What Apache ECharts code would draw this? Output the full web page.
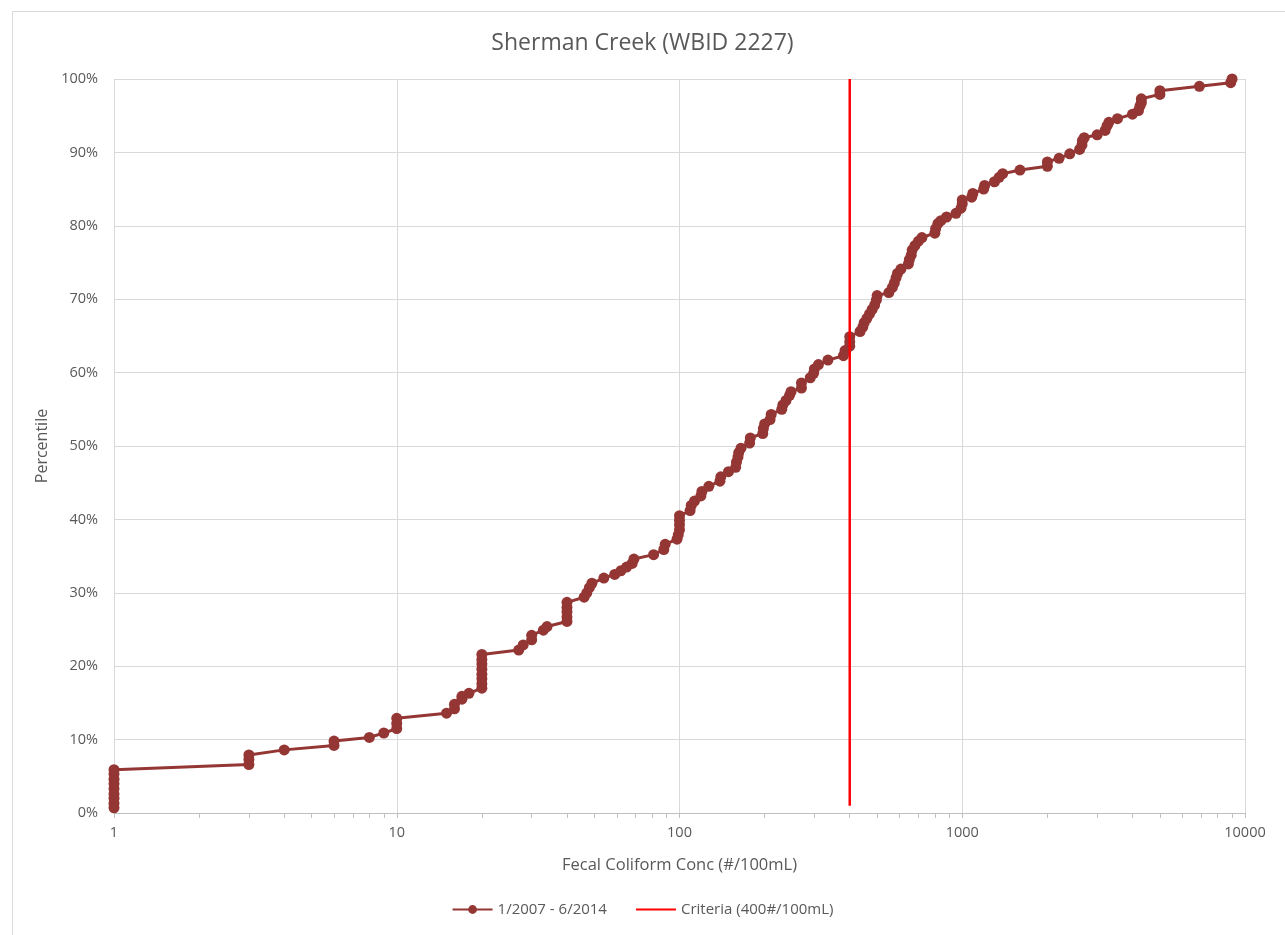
<!DOCTYPE html>
<html>
<head>
<meta charset="utf-8">
<title>Sherman Creek (WBID 2227)</title>
<script src="https://cdn.jsdelivr.net/npm/echarts@6/dist/echarts.min.js"></script>
<style>
  html, body { margin: 0; padding: 0; background: #ffffff; }
  #chart { width: 1285px; height: 935px; }
</style>
</head>
<body>
<div id="chart"></div>
<script>
// Fecal coliform samples, 1/2007 - 6/2014: concentration (#/100mL) and percentile (%)
const concentrations = [
  1, 1, 1, 1, 1, 1, 1, 1, 1,
  3, 3, 3, 4, 6, 6, 8, 9, 10, 10, 10,
  15, 16, 16, 17, 17, 18,
  20, 20, 20, 20, 20, 20, 20, 20,
  27, 28, 30, 30, 33, 34,
  40, 40, 40, 40, 40,
  46, 47, 48, 49, 54, 59, 62, 65, 68, 69, 81, 88, 89,
  98, 99, 100, 100, 100, 100,
  109, 110, 113, 119, 120, 127, 139, 140, 149, 158, 159, 161, 162, 165,
  177, 178, 197, 198, 200, 209, 211, 230, 232, 238, 245, 248, 270, 270,
  290, 298, 300, 310, 335, 380, 385, 400, 400, 400,
  435, 445, 450, 460, 470, 480, 490, 497, 500, 550, 566, 575, 583, 590,
  607, 645, 650, 660, 665, 680, 700, 720, 800, 805, 820, 840, 880, 950,
  990, 1000, 1000, 1080, 1090, 1190, 1200, 1300, 1350, 1390, 1600,
  2000, 2000, 2200, 2400, 2600, 2650, 2660, 2700, 3000, 3200, 3250, 3300,
  3540, 4000, 4200, 4250, 4300, 4300, 5000, 5000, 6900, 8900, 9000
];
const percentiles = [
  0.7, 1.3, 2.0, 2.6, 3.3, 4.0, 4.6, 5.3, 5.9,
  6.6, 7.3, 7.9, 8.6, 9.2, 9.8, 10.3, 10.9, 11.5, 12.2, 12.9,
  13.6, 14.2, 14.8, 15.5, 15.9, 16.3,
  17.0, 17.6, 18.3, 18.9, 19.6, 20.3, 20.9, 21.6,
  22.2, 22.9, 23.6, 24.2, 24.9, 25.4,
  26.1, 26.7, 27.4, 28.0, 28.7,
  29.4, 30.0, 30.7, 31.3, 32.0, 32.5, 33.0, 33.5, 34.0, 34.6, 35.2, 35.9, 36.6,
  37.3, 37.9, 38.6, 39.3, 39.9, 40.5,
  41.2, 41.9, 42.5, 43.2, 43.8, 44.5, 45.2, 45.8, 46.5, 47.1, 47.8, 48.5, 49.1, 49.7,
  50.4, 51.1, 51.7, 52.4, 53.0, 53.6, 54.3, 55.0, 55.6, 56.2, 56.9, 57.4, 57.9, 58.6,
  59.3, 59.9, 60.5, 61.1, 61.7, 62.3, 63.0, 63.6, 64.2, 64.9,
  65.6, 66.2, 66.8, 67.4, 68.0, 68.6, 69.2, 69.9, 70.5, 70.9, 71.6, 72.2, 72.9, 73.5,
  74.1, 74.8, 75.4, 76.0, 76.7, 77.3, 77.9, 78.4, 79.0, 79.6, 80.3, 80.7, 81.2, 81.7,
  82.4, 83.0, 83.5, 83.9, 84.4, 85.0, 85.5, 86.0, 86.6, 87.1, 87.6,
  88.1, 88.7, 89.2, 89.8, 90.4, 91.0, 91.6, 92.0, 92.4, 93.0, 93.6, 94.1,
  94.6, 95.2, 95.7, 96.3, 96.8, 97.3, 97.9, 98.4, 99.0, 99.5, 100
];

// Criteria: 400 #/100mL reference line
const criteriaValue = 400;
const criteriaRange = [1, 100];

// Log-axis tick positions (1-9 in each decade)
const decades = [1, 10, 100, 1000];
const logTicks = [];
decades.forEach(d => { for (let k = 1; k <= 9; k++) logTicks.push(k * d); });
logTicks.push(10000);

const seriesName = '1/2007 - 6/2014';
const criteriaName = 'Criteria (400#/100mL)';

const textColor = '#595959';
const gridColor = '#d9d9d9';
const fontFamily = '"Open Sans", "Liberation Sans", sans-serif';

const sampleData = concentrations.map((c, i) => [c, percentiles[i]]);
const criteriaData = criteriaRange.map(p => [criteriaValue, p]);

const chart = echarts.init(document.getElementById('chart'));

chart.setOption({
  animation: false,
  backgroundColor: '#ffffff',
  textStyle: { fontFamily: fontFamily },
  graphic: [{
    type: 'rect',
    left: 10, top: 9,
    shape: { width: 1300, height: 1000 },
    style: { fill: 'none', stroke: '#d9d9d9', lineWidth: 1 },
    silent: true
  }],
  title: {
    text: 'Sherman Creek (WBID 2227)',
    left: 'center',
    top: 27,
    textStyle: { color: textColor, fontSize: 23, fontWeight: 'normal', fontFamily: fontFamily }
  },
  legend: {
    bottom: 13,
    left: 'center',
    itemWidth: 40,
    itemHeight: 11,
    itemGap: 28,
    textStyle: { color: textColor, fontSize: 15, fontFamily: fontFamily },
    data: [
      { name: seriesName },
      { name: criteriaName, itemStyle: { opacity: 0 } }
    ]
  },
  grid: { left: 114, right: 40, top: 79, bottom: 122, containLabel: false },
  xAxis: [{
    type: 'log',
    logBase: 10,
    min: 1,
    max: 10000,
    name: 'Fecal Coliform Conc (#/100mL)',
    nameLocation: 'middle',
    nameGap: 44,
    nameTextStyle: { color: textColor, fontSize: 16.5, fontFamily: fontFamily },
    axisLine: { show: true, lineStyle: { color: '#bfbfbf', width: 1 } },
    axisTick: { show: false },
    axisLabel: {
      color: textColor, fontSize: 14.5, margin: 12, fontFamily: fontFamily,
      formatter: v => String(v)
    },
    splitLine: { show: true, lineStyle: { color: gridColor, width: 1 } },
    minorTick: { show: false },
    minorSplitLine: { show: false }
  }, {
    type: 'log',
    logBase: 10,
    min: 1,
    max: 10000,
    position: 'bottom',
    axisLine: { show: false },
    axisLabel: { show: false },
    splitLine: { show: false },
    axisTick: {
      show: true,
      inside: false,
      length: 5,
      customValues: logTicks,
      lineStyle: { color: '#bfbfbf', width: 1 }
    }
  }],
  yAxis: {
    type: 'value',
    min: 0,
    max: 100,
    interval: 10,
    name: 'Percentile',
    nameLocation: 'middle',
    nameGap: 60,
    nameRotate: 90,
    nameTextStyle: { color: textColor, fontSize: 16, fontFamily: fontFamily },
    axisLine: { show: false },
    axisTick: { show: false },
    axisLabel: { color: textColor, fontSize: 14.5, margin: 16, formatter: '{value}%', fontFamily: fontFamily },
    splitLine: { show: true, lineStyle: { color: gridColor, width: 1 } }
  },
  series: [{
    name: seriesName,
    type: 'line',
    xAxisIndex: 0,
    data: sampleData,
    symbol: 'circle',
    symbolSize: 11,
    showAllSymbol: true,
    itemStyle: { color: '#943634' },
    lineStyle: { color: '#943634', width: 3 },
    z: 3
  }, {
    name: criteriaName,
    type: 'line',
    xAxisIndex: 0,
    data: criteriaData,
    symbol: 'none',
    itemStyle: { color: '#ff0000' },
    lineStyle: { color: '#ff0000', width: 2.5 },
    z: 4
  }]
});
</script>
</body>
</html>
